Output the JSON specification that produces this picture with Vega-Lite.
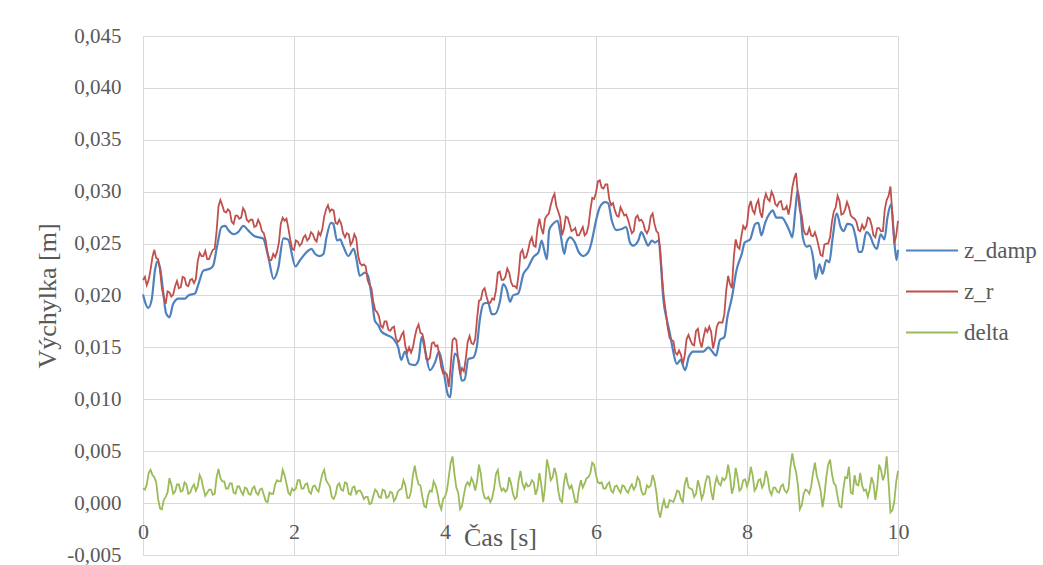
{
"$schema":"https://vega.github.io/schema/vega-lite/v6.json",
"width":755,"height":519,
"autosize":{"type":"none"},
"padding":{"left":143,"top":36,"right":145,"bottom":10},
"background":"white",
"config":{
"locale":{"number":{"decimal":",","thousands":" ","grouping":[3],"currency":["",""],"minus":"-"}},
"view":{"stroke":null},
"font":"Liberation Serif"
},
"datasets":{
"blue":[
{"t":0,"v":0.0201},{"t":0.07,"v":0.0188},{"t":0.115,"v":0.0196},{"t":0.16,"v":0.0225},{"t":0.19,"v":0.0233},{"t":0.225,"v":0.0227},{"t":0.27,"v":0.0202},{"t":0.305,"v":0.0183},{"t":0.35,"v":0.0179},{"t":0.4,"v":0.0192},{"t":0.47,"v":0.0197},{"t":0.56,"v":0.0197},{"t":0.6,"v":0.02},{"t":0.69,"v":0.0202},{"t":0.73,"v":0.021},{"t":0.8,"v":0.0224},{"t":0.89,"v":0.0226},{"t":0.93,"v":0.0229},{"t":0.98,"v":0.0247},{"t":1.04,"v":0.0266},{"t":1.09,"v":0.0267},{"t":1.13,"v":0.0263},{"t":1.2,"v":0.0259},{"t":1.26,"v":0.0261},{"t":1.33,"v":0.0267},{"t":1.39,"v":0.0263},{"t":1.48,"v":0.0257},{"t":1.59,"v":0.0255},{"t":1.66,"v":0.0237},{"t":1.73,"v":0.0216},{"t":1.79,"v":0.0226},{"t":1.86,"v":0.0255},{"t":1.92,"v":0.0254},{"t":2.02,"v":0.0228},{"t":2.08,"v":0.0234},{"t":2.17,"v":0.0242},{"t":2.23,"v":0.0245},{"t":2.28,"v":0.024},{"t":2.34,"v":0.0238},{"t":2.39,"v":0.024},{"t":2.43,"v":0.0256},{"t":2.49,"v":0.027},{"t":2.52,"v":0.0269},{"t":2.57,"v":0.0253},{"t":2.61,"v":0.0254},{"t":2.65,"v":0.0248},{"t":2.72,"v":0.0238},{"t":2.79,"v":0.0245},{"t":2.83,"v":0.0234},{"t":2.87,"v":0.0219},{"t":2.94,"v":0.0222},{"t":2.98,"v":0.0219},{"t":3.03,"v":0.0198},{"t":3.07,"v":0.0176},{"t":3.12,"v":0.0171},{"t":3.16,"v":0.0165},{"t":3.23,"v":0.0162},{"t":3.32,"v":0.0158},{"t":3.38,"v":0.015},{"t":3.42,"v":0.0138},{"t":3.47,"v":0.0146},{"t":3.53,"v":0.0134},{"t":3.6,"v":0.0133},{"t":3.65,"v":0.0138},{"t":3.69,"v":0.016},{"t":3.74,"v":0.0146},{"t":3.8,"v":0.0128},{"t":3.87,"v":0.0136},{"t":3.92,"v":0.0146},{"t":3.98,"v":0.0128},{"t":4.04,"v":0.0104},{"t":4.07,"v":0.0102},{"t":4.1,"v":0.0128},{"t":4.13,"v":0.0144},{"t":4.18,"v":0.0138},{"t":4.22,"v":0.0118},{"t":4.26,"v":0.0119},{"t":4.31,"v":0.0139},{"t":4.37,"v":0.014},{"t":4.42,"v":0.015},{"t":4.46,"v":0.0176},{"t":4.51,"v":0.0192},{"t":4.57,"v":0.0193},{"t":4.62,"v":0.0182},{"t":4.66,"v":0.0182},{"t":4.73,"v":0.0195},{"t":4.77,"v":0.0211},{"t":4.82,"v":0.0205},{"t":4.86,"v":0.0194},{"t":4.9,"v":0.02},{"t":4.97,"v":0.0202},{"t":5.04,"v":0.0221},{"t":5.1,"v":0.0227},{"t":5.17,"v":0.0237},{"t":5.24,"v":0.0242},{"t":5.28,"v":0.0253},{"t":5.31,"v":0.0245},{"t":5.35,"v":0.0235},{"t":5.38,"v":0.0263},{"t":5.43,"v":0.0269},{"t":5.49,"v":0.0272},{"t":5.53,"v":0.0259},{"t":5.58,"v":0.024},{"t":5.61,"v":0.0251},{"t":5.66,"v":0.0256},{"t":5.72,"v":0.0251},{"t":5.77,"v":0.0242},{"t":5.83,"v":0.0238},{"t":5.9,"v":0.0242},{"t":5.94,"v":0.0251},{"t":6,"v":0.0272},{"t":6.05,"v":0.0285},{"t":6.12,"v":0.029},{"t":6.16,"v":0.0289},{"t":6.21,"v":0.0272},{"t":6.27,"v":0.0263},{"t":6.34,"v":0.0264},{"t":6.4,"v":0.0266},{"t":6.45,"v":0.0251},{"t":6.49,"v":0.0248},{"t":6.56,"v":0.0253},{"t":6.6,"v":0.0261},{"t":6.65,"v":0.0254},{"t":6.69,"v":0.0248},{"t":6.74,"v":0.0253},{"t":6.78,"v":0.0251},{"t":6.83,"v":0.0253},{"t":6.86,"v":0.023},{"t":6.89,"v":0.0198},{"t":6.94,"v":0.0176},{"t":6.98,"v":0.0163},{"t":7.02,"v":0.0147},{"t":7.07,"v":0.0134},{"t":7.12,"v":0.0138},{"t":7.18,"v":0.0128},{"t":7.23,"v":0.0141},{"t":7.29,"v":0.0146},{"t":7.36,"v":0.0146},{"t":7.42,"v":0.0146},{"t":7.49,"v":0.015},{"t":7.53,"v":0.0147},{"t":7.59,"v":0.0142},{"t":7.64,"v":0.0157},{"t":7.7,"v":0.016},{"t":7.74,"v":0.0179},{"t":7.8,"v":0.0198},{"t":7.86,"v":0.0224},{"t":7.93,"v":0.024},{"t":7.97,"v":0.0251},{"t":8.04,"v":0.0254},{"t":8.11,"v":0.0269},{"t":8.15,"v":0.027},{"t":8.19,"v":0.0258},{"t":8.24,"v":0.027},{"t":8.3,"v":0.0279},{"t":8.34,"v":0.0282},{"t":8.39,"v":0.0275},{"t":8.46,"v":0.0275},{"t":8.52,"v":0.0269},{"t":8.57,"v":0.0261},{"t":8.6,"v":0.0256},{"t":8.64,"v":0.0282},{"t":8.67,"v":0.0301},{"t":8.7,"v":0.0288},{"t":8.74,"v":0.0256},{"t":8.79,"v":0.0247},{"t":8.83,"v":0.0248},{"t":8.88,"v":0.0234},{"t":8.91,"v":0.0216},{"t":8.96,"v":0.023},{"t":9,"v":0.0221},{"t":9.05,"v":0.0234},{"t":9.09,"v":0.0232},{"t":9.13,"v":0.0253},{"t":9.19,"v":0.0279},{"t":9.24,"v":0.0266},{"t":9.28,"v":0.0262},{"t":9.33,"v":0.0269},{"t":9.39,"v":0.0268},{"t":9.44,"v":0.0256},{"t":9.48,"v":0.0242},{"t":9.52,"v":0.0242},{"t":9.58,"v":0.0261},{"t":9.64,"v":0.0256},{"t":9.67,"v":0.025},{"t":9.72,"v":0.0245},{"t":9.77,"v":0.0259},{"t":9.82,"v":0.0254},{"t":9.86,"v":0.0275},{"t":9.91,"v":0.0288},{"t":9.94,"v":0.0263},{"t":9.98,"v":0.0234},{"t":10,"v":0.0244}
],
"rg":[
{"t":0,"z_r":0.0215,"delta":0.0014},{"t":0.025,"z_r":0.0218,"delta":0.0013},{"t":0.05,"z_r":0.021,"delta":0.0018},{"t":0.075,"z_r":0.0215,"delta":0.0029},{"t":0.1,"z_r":0.0225,"delta":0.0032},{"t":0.125,"z_r":0.0237,"delta":0.0027},{"t":0.15,"z_r":0.0244,"delta":0.0025},{"t":0.175,"z_r":0.0236,"delta":0.002},{"t":0.2,"z_r":0.0235,"delta":0.0004},{"t":0.225,"z_r":0.0225,"delta":-0.0005},{"t":0.25,"z_r":0.0207,"delta":-0.0006},{"t":0.275,"z_r":0.0198,"delta":0.0003},{"t":0.3,"z_r":0.0192,"delta":0.0006},{"t":0.325,"z_r":0.0204,"delta":0.001},{"t":0.35,"z_r":0.0203,"delta":0.0024},{"t":0.375,"z_r":0.0199,"delta":0.0018},{"t":0.4,"z_r":0.0201,"delta":0.0009},{"t":0.425,"z_r":0.0209,"delta":0.0011},{"t":0.45,"z_r":0.0214,"delta":0.0018},{"t":0.475,"z_r":0.0207,"delta":0.0018},
{"t":0.5,"z_r":0.0208,"delta":0.0011},{"t":0.525,"z_r":0.0218,"delta":0.0012},{"t":0.55,"z_r":0.0217,"delta":0.002},{"t":0.575,"z_r":0.021,"delta":0.0018},{"t":0.6,"z_r":0.0209,"delta":0.0009},{"t":0.625,"z_r":0.0215,"delta":0.001},{"t":0.65,"z_r":0.0216,"delta":0.0015},{"t":0.675,"z_r":0.0212,"delta":0.0018},{"t":0.7,"z_r":0.0216,"delta":0.0012},{"t":0.725,"z_r":0.0233,"delta":0.0016},{"t":0.75,"z_r":0.0241,"delta":0.0027},{"t":0.775,"z_r":0.0238,"delta":0.0023},{"t":0.8,"z_r":0.0238,"delta":0.0014},{"t":0.825,"z_r":0.0243,"delta":0.0007},{"t":0.85,"z_r":0.0235,"delta":0.001},{"t":0.875,"z_r":0.0235,"delta":0.0013},{"t":0.9,"z_r":0.024,"delta":0.0013},{"t":0.925,"z_r":0.0244,"delta":0.0008},{"t":0.95,"z_r":0.0245,"delta":0.0009},{"t":0.975,"z_r":0.0262,"delta":0.0025},
{"t":1,"z_r":0.0286,"delta":0.0033},{"t":1.025,"z_r":0.0292,"delta":0.0024},{"t":1.05,"z_r":0.0287,"delta":0.0021},{"t":1.075,"z_r":0.0281,"delta":0.0021},{"t":1.1,"z_r":0.028,"delta":0.0014},{"t":1.125,"z_r":0.0283,"delta":0.0014},{"t":1.15,"z_r":0.0281,"delta":0.0019},{"t":1.175,"z_r":0.0271,"delta":0.0019},{"t":1.2,"z_r":0.0269,"delta":0.001},{"t":1.225,"z_r":0.0277,"delta":0.0009},{"t":1.25,"z_r":0.0277,"delta":0.0016},{"t":1.275,"z_r":0.0274,"delta":0.0016},{"t":1.3,"z_r":0.0275,"delta":0.0011},{"t":1.325,"z_r":0.0284,"delta":0.0008},{"t":1.35,"z_r":0.0281,"delta":0.0015},{"t":1.375,"z_r":0.0273,"delta":0.0014},{"t":1.4,"z_r":0.0271,"delta":0.0009},{"t":1.425,"z_r":0.0273,"delta":0.0008},{"t":1.45,"z_r":0.0273,"delta":0.0014},{"t":1.475,"z_r":0.0266,"delta":0.0016},
{"t":1.5,"z_r":0.0267,"delta":0.001},{"t":1.525,"z_r":0.0273,"delta":0.0008},{"t":1.55,"z_r":0.0269,"delta":0.0013},{"t":1.575,"z_r":0.0262,"delta":0.0014},{"t":1.6,"z_r":0.026,"delta":0.0008},{"t":1.625,"z_r":0.0253,"delta":0.0002},{"t":1.65,"z_r":0.0241,"delta":0.0001},{"t":1.675,"z_r":0.0234,"delta":0.001},{"t":1.7,"z_r":0.0234,"delta":0.0009},{"t":1.725,"z_r":0.024,"delta":0.0009},{"t":1.75,"z_r":0.0237,"delta":0.0018},{"t":1.775,"z_r":0.0242,"delta":0.0022},{"t":1.8,"z_r":0.0251,"delta":0.0021},{"t":1.825,"z_r":0.0269,"delta":0.0021},{"t":1.85,"z_r":0.0275,"delta":0.0032},{"t":1.875,"z_r":0.0272,"delta":0.0027},{"t":1.9,"z_r":0.0274,"delta":0.0019},{"t":1.925,"z_r":0.0265,"delta":0.001},{"t":1.95,"z_r":0.0254,"delta":0.0008},{"t":1.975,"z_r":0.0245,"delta":0.0014},
{"t":2,"z_r":0.0244,"delta":0.0012},{"t":2.025,"z_r":0.0253,"delta":0.0014},{"t":2.05,"z_r":0.0252,"delta":0.0022},{"t":2.075,"z_r":0.0248,"delta":0.0022},{"t":2.1,"z_r":0.025,"delta":0.0014},{"t":2.125,"z_r":0.0256,"delta":0.0014},{"t":2.15,"z_r":0.0258,"delta":0.0018},{"t":2.175,"z_r":0.0253,"delta":0.0019},{"t":2.2,"z_r":0.0255,"delta":0.0011},{"t":2.225,"z_r":0.0261,"delta":0.0009},{"t":2.25,"z_r":0.0259,"delta":0.0016},{"t":2.275,"z_r":0.0254,"delta":0.0017},{"t":2.3,"z_r":0.0252,"delta":0.0013},{"t":2.325,"z_r":0.0261,"delta":0.0011},{"t":2.35,"z_r":0.0258,"delta":0.002},{"t":2.375,"z_r":0.0264,"delta":0.0028},{"t":2.4,"z_r":0.0276,"delta":0.0032},{"t":2.425,"z_r":0.0283,"delta":0.0022},{"t":2.45,"z_r":0.0287,"delta":0.0019},{"t":2.475,"z_r":0.0281,"delta":0.0016},
{"t":2.5,"z_r":0.0283,"delta":0.0006},{"t":2.525,"z_r":0.0282,"delta":0.0004},{"t":2.55,"z_r":0.027,"delta":0.0008},{"t":2.575,"z_r":0.0269,"delta":0.0017},{"t":2.6,"z_r":0.0273,"delta":0.0019},{"t":2.625,"z_r":0.0269,"delta":0.0013},{"t":2.65,"z_r":0.026,"delta":0.0012},{"t":2.675,"z_r":0.0256,"delta":0.002},{"t":2.7,"z_r":0.026,"delta":0.0019},{"t":2.725,"z_r":0.0259,"delta":0.0009},{"t":2.75,"z_r":0.0249,"delta":0.0008},{"t":2.775,"z_r":0.0252,"delta":0.0015},{"t":2.8,"z_r":0.0259,"delta":0.0016},{"t":2.825,"z_r":0.0255,"delta":0.0009},{"t":2.85,"z_r":0.0238,"delta":0.0012},{"t":2.875,"z_r":0.0231,"delta":0.0012},{"t":2.9,"z_r":0.0229,"delta":0.0009},{"t":2.925,"z_r":0.023,"delta":0.0004},{"t":2.95,"z_r":0.0228,"delta":0.0006},{"t":2.975,"z_r":0.0215,"delta":0.0006},
{"t":3,"z_r":0.021,"delta":-0.0001},{"t":3.025,"z_r":0.0207,"delta":0},{"t":3.05,"z_r":0.0194,"delta":0.0007},{"t":3.075,"z_r":0.0186,"delta":0.0013},{"t":3.1,"z_r":0.0184,"delta":0.0011},{"t":3.125,"z_r":0.018,"delta":0.0006},{"t":3.15,"z_r":0.0171,"delta":0.0005},{"t":3.175,"z_r":0.0169,"delta":0.0013},{"t":3.2,"z_r":0.0175,"delta":0.0012},{"t":3.225,"z_r":0.0175,"delta":0.0005},{"t":3.25,"z_r":0.0167,"delta":0.0006},{"t":3.275,"z_r":0.0166,"delta":0.0011},{"t":3.3,"z_r":0.0169,"delta":0.001},{"t":3.325,"z_r":0.017,"delta":0.0002},{"t":3.35,"z_r":0.0159,"delta":0.0005},{"t":3.375,"z_r":0.0155,"delta":0.0011},{"t":3.4,"z_r":0.0157,"delta":0.0013},{"t":3.425,"z_r":0.0162,"delta":0.0014},{"t":3.45,"z_r":0.0165,"delta":0.0022},{"t":3.475,"z_r":0.0151,"delta":0.0017},
{"t":3.5,"z_r":0.0145,"delta":0.0005},{"t":3.525,"z_r":0.015,"delta":0.0005},{"t":3.55,"z_r":0.0145,"delta":0.0011},{"t":3.575,"z_r":0.015,"delta":0.0027},{"t":3.6,"z_r":0.016,"delta":0.0036},{"t":3.625,"z_r":0.0168,"delta":0.0025},{"t":3.65,"z_r":0.0172,"delta":0.0018},{"t":3.675,"z_r":0.0164,"delta":0.0017},{"t":3.7,"z_r":0.0163,"delta":0.0006},{"t":3.725,"z_r":0.0155,"delta":-0.0003},{"t":3.75,"z_r":0.0139,"delta":-0.0004},{"t":3.775,"z_r":0.0138,"delta":0.0007},{"t":3.8,"z_r":0.014,"delta":0.0012},{"t":3.825,"z_r":0.0154,"delta":0.0011},{"t":3.85,"z_r":0.0155,"delta":0.0021},{"t":3.875,"z_r":0.0151,"delta":0.0017},{"t":3.9,"z_r":0.0152,"delta":0.001},{"t":3.925,"z_r":0.0143,"delta":-0.0001},{"t":3.95,"z_r":0.0131,"delta":-0.0006},{"t":3.975,"z_r":0.0125,"delta":0.0004},
{"t":4,"z_r":0.0126,"delta":0.0006},{"t":4.025,"z_r":0.0124,"delta":0.0012},{"t":4.05,"z_r":0.0112,"delta":0.0025},{"t":4.075,"z_r":0.0132,"delta":0.0039},{"t":4.1,"z_r":0.0157,"delta":0.0045},{"t":4.125,"z_r":0.0159,"delta":0.0028},{"t":4.15,"z_r":0.0157,"delta":0.0015},{"t":4.175,"z_r":0.0137,"delta":0.001},{"t":4.2,"z_r":0.0124,"delta":-0.0006},{"t":4.225,"z_r":0.013,"delta":-0.0003},{"t":4.25,"z_r":0.0127,"delta":0.0008},{"t":4.275,"z_r":0.0139,"delta":0.0017},{"t":4.3,"z_r":0.0155,"delta":0.002},{"t":4.325,"z_r":0.0161,"delta":0.0017},{"t":4.35,"z_r":0.0154,"delta":0.0024},{"t":4.375,"z_r":0.0153,"delta":0.002},{"t":4.4,"z_r":0.0158,"delta":0.0012},{"t":4.425,"z_r":0.0178,"delta":0.0021},{"t":4.45,"z_r":0.0195,"delta":0.0037},{"t":4.475,"z_r":0.0196,"delta":0.0028},
{"t":4.5,"z_r":0.0205,"delta":0.0012},{"t":4.525,"z_r":0.0207,"delta":0.0005},{"t":4.55,"z_r":0.0199,"delta":0.0004},{"t":4.575,"z_r":0.0193,"delta":0.0006},{"t":4.6,"z_r":0.0193,"delta":0.0001},{"t":4.625,"z_r":0.0197,"delta":0.0005},{"t":4.65,"z_r":0.0196,"delta":0.0014},{"t":4.675,"z_r":0.0205,"delta":0.0028},{"t":4.7,"z_r":0.0222,"delta":0.0032},{"t":4.725,"z_r":0.0223,"delta":0.0018},{"t":4.75,"z_r":0.0215,"delta":0.0012},{"t":4.775,"z_r":0.0215,"delta":0.0014},{"t":4.8,"z_r":0.0218,"delta":0.0011},{"t":4.825,"z_r":0.0226,"delta":0.0013},{"t":4.85,"z_r":0.0222,"delta":0.0025},{"t":4.875,"z_r":0.0213,"delta":0.0019},{"t":4.9,"z_r":0.0209,"delta":0.0009},{"t":4.925,"z_r":0.0209,"delta":0.0004},{"t":4.95,"z_r":0.0207,"delta":0.0006},{"t":4.975,"z_r":0.022,"delta":0.0022},
{"t":5,"z_r":0.0241,"delta":0.0031},{"t":5.025,"z_r":0.0244,"delta":0.0019},{"t":5.05,"z_r":0.0236,"delta":0.0014},{"t":5.075,"z_r":0.0237,"delta":0.0019},{"t":5.1,"z_r":0.0243,"delta":0.0016},{"t":5.125,"z_r":0.0252,"delta":0.0017},{"t":5.15,"z_r":0.0256,"delta":0.0022},{"t":5.175,"z_r":0.0248,"delta":0.002},{"t":5.2,"z_r":0.0247,"delta":0.0008},{"t":5.225,"z_r":0.0265,"delta":0.0014},{"t":5.25,"z_r":0.0274,"delta":0.0029},{"t":5.275,"z_r":0.0265,"delta":0.0018},{"t":5.3,"z_r":0.0259,"delta":0.0001},{"t":5.325,"z_r":0.0274,"delta":0.0016},{"t":5.35,"z_r":0.0277,"delta":0.0042},{"t":5.375,"z_r":0.0279,"delta":0.0034},{"t":5.4,"z_r":0.0287,"delta":0.0022},{"t":5.425,"z_r":0.0294,"delta":0.0025},{"t":5.45,"z_r":0.0298,"delta":0.0034},{"t":5.475,"z_r":0.0286,"delta":0.0027},
{"t":5.5,"z_r":0.0281,"delta":0.0012},{"t":5.525,"z_r":0.0275,"delta":0.0003},{"t":5.55,"z_r":0.0258,"delta":0.0001},{"t":5.575,"z_r":0.0264,"delta":0.0019},{"t":5.6,"z_r":0.0276,"delta":0.0029},{"t":5.625,"z_r":0.0275,"delta":0.0019},{"t":5.65,"z_r":0.0269,"delta":0.0014},{"t":5.675,"z_r":0.0262,"delta":0.0017},{"t":5.7,"z_r":0.0263,"delta":0.001},{"t":5.725,"z_r":0.0265,"delta":0.0001},{"t":5.75,"z_r":0.0258,"delta":0.0001},{"t":5.775,"z_r":0.0258,"delta":0.0014},{"t":5.8,"z_r":0.0262,"delta":0.0022},{"t":5.825,"z_r":0.0266,"delta":0.0015},{"t":5.85,"z_r":0.0258,"delta":0.0019},{"t":5.875,"z_r":0.026,"delta":0.0024},{"t":5.9,"z_r":0.0267,"delta":0.0025},{"t":5.925,"z_r":0.0282,"delta":0.0029},{"t":5.95,"z_r":0.0294,"delta":0.0039},{"t":5.975,"z_r":0.0293,"delta":0.0037},
{"t":6,"z_r":0.0299,"delta":0.0027},{"t":6.025,"z_r":0.031,"delta":0.002},{"t":6.05,"z_r":0.0311,"delta":0.0019},{"t":6.075,"z_r":0.0304,"delta":0.002},{"t":6.1,"z_r":0.0303,"delta":0.0014},{"t":6.125,"z_r":0.0307,"delta":0.0014},{"t":6.15,"z_r":0.0307,"delta":0.0018},{"t":6.175,"z_r":0.0293,"delta":0.002},{"t":6.2,"z_r":0.0287,"delta":0.0012},{"t":6.225,"z_r":0.0289,"delta":0.001},{"t":6.25,"z_r":0.0282,"delta":0.0016},{"t":6.275,"z_r":0.0277,"delta":0.0017},{"t":6.3,"z_r":0.0276,"delta":0.0013},{"t":6.325,"z_r":0.0285,"delta":0.001},{"t":6.35,"z_r":0.0281,"delta":0.0017},{"t":6.375,"z_r":0.0277,"delta":0.0016},{"t":6.4,"z_r":0.0278,"delta":0.0012},{"t":6.425,"z_r":0.0273,"delta":0.001},{"t":6.45,"z_r":0.0266,"delta":0.0015},{"t":6.475,"z_r":0.026,"delta":0.0018},
{"t":6.5,"z_r":0.0262,"delta":0.0013},{"t":6.525,"z_r":0.0275,"delta":0.0016},{"t":6.55,"z_r":0.0277,"delta":0.0025},{"t":6.575,"z_r":0.0272,"delta":0.0022},{"t":6.6,"z_r":0.0273,"delta":0.0012},{"t":6.625,"z_r":0.027,"delta":0.0008},{"t":6.65,"z_r":0.0263,"delta":0.0009},{"t":6.675,"z_r":0.026,"delta":0.0017},{"t":6.7,"z_r":0.0264,"delta":0.0015},{"t":6.725,"z_r":0.0276,"delta":0.0017},{"t":6.75,"z_r":0.0279,"delta":0.0027},{"t":6.775,"z_r":0.0269,"delta":0.0021},{"t":6.8,"z_r":0.0262,"delta":0.001},{"t":6.825,"z_r":0.026,"delta":-0.0007},{"t":6.85,"z_r":0.0245,"delta":-0.0014},{"t":6.875,"z_r":0.0218,"delta":-0.0004},{"t":6.9,"z_r":0.0197,"delta":0.0003},{"t":6.925,"z_r":0.0184,"delta":-0.0004},{"t":6.95,"z_r":0.0169,"delta":-0.0004},{"t":6.975,"z_r":0.0159,"delta":0.0003},
{"t":7,"z_r":0.0157,"delta":0.0002},{"t":7.025,"z_r":0.0156,"delta":0.0001},{"t":7.05,"z_r":0.0145,"delta":0.0006},{"t":7.075,"z_r":0.0143,"delta":0.0012},{"t":7.1,"z_r":0.0147,"delta":0.0011},{"t":7.125,"z_r":0.0143,"delta":0.0004},{"t":7.15,"z_r":0.0134,"delta":0.0001},{"t":7.175,"z_r":0.0142,"delta":0.0018},{"t":7.2,"z_r":0.0158,"delta":0.0025},{"t":7.225,"z_r":0.0162,"delta":0.0015},{"t":7.25,"z_r":0.0157,"delta":0.0014},{"t":7.275,"z_r":0.0153,"delta":0.0013},{"t":7.3,"z_r":0.0152,"delta":0.0006},{"t":7.325,"z_r":0.0166,"delta":0.0009},{"t":7.35,"z_r":0.0168,"delta":0.0022},{"t":7.375,"z_r":0.0156,"delta":0.0015},{"t":7.4,"z_r":0.015,"delta":0.0004},{"t":7.425,"z_r":0.016,"delta":0.0009},{"t":7.45,"z_r":0.0168,"delta":0.002},{"t":7.475,"z_r":0.0165,"delta":0.0026},
{"t":7.5,"z_r":0.017,"delta":0.0025},{"t":7.525,"z_r":0.0165,"delta":0.0011},{"t":7.55,"z_r":0.0149,"delta":0.0003},{"t":7.575,"z_r":0.0157,"delta":0.0018},{"t":7.6,"z_r":0.017,"delta":0.0025},{"t":7.625,"z_r":0.0174,"delta":0.0019},{"t":7.65,"z_r":0.0174,"delta":0.0017},{"t":7.675,"z_r":0.0174,"delta":0.0024},{"t":7.7,"z_r":0.0182,"delta":0.0022},{"t":7.725,"z_r":0.0205,"delta":0.0025},{"t":7.75,"z_r":0.0219,"delta":0.0037},{"t":7.775,"z_r":0.0211,"delta":0.0026},{"t":7.8,"z_r":0.0207,"delta":0.0009},{"t":7.825,"z_r":0.0237,"delta":0.0016},{"t":7.85,"z_r":0.0254,"delta":0.0034},{"t":7.875,"z_r":0.0247,"delta":0.0025},{"t":7.9,"z_r":0.0245,"delta":0.0012},{"t":7.925,"z_r":0.0257,"delta":0.0014},{"t":7.95,"z_r":0.0267,"delta":0.0022},{"t":7.975,"z_r":0.0264,"delta":0.0023},
{"t":8,"z_r":0.0268,"delta":0.0016},{"t":8.025,"z_r":0.0285,"delta":0.0022},{"t":8.05,"z_r":0.0291,"delta":0.0035},{"t":8.075,"z_r":0.0282,"delta":0.0027},{"t":8.1,"z_r":0.0279,"delta":0.0012},{"t":8.125,"z_r":0.0288,"delta":0.0015},{"t":8.15,"z_r":0.0292,"delta":0.0022},{"t":8.175,"z_r":0.028,"delta":0.0023},{"t":8.2,"z_r":0.0275,"delta":0.0015},{"t":8.225,"z_r":0.0291,"delta":0.0019},{"t":8.25,"z_r":0.0298,"delta":0.0031},{"t":8.275,"z_r":0.0293,"delta":0.0024},{"t":8.3,"z_r":0.0291,"delta":0.0012},{"t":8.325,"z_r":0.03,"delta":0.0008},{"t":8.35,"z_r":0.0296,"delta":0.0015},{"t":8.375,"z_r":0.0288,"delta":0.0015},{"t":8.4,"z_r":0.0286,"delta":0.0011},{"t":8.425,"z_r":0.029,"delta":0.001},{"t":8.45,"z_r":0.0291,"delta":0.0016},{"t":8.475,"z_r":0.0283,"delta":0.0018},
{"t":8.5,"z_r":0.0283,"delta":0.0012},{"t":8.525,"z_r":0.0286,"delta":0.001},{"t":8.55,"z_r":0.0278,"delta":0.0014},{"t":8.575,"z_r":0.0288,"delta":0.0035},{"t":8.6,"z_r":0.0304,"delta":0.0048},{"t":8.625,"z_r":0.0313,"delta":0.0037},{"t":8.65,"z_r":0.0318,"delta":0.003},{"t":8.675,"z_r":0.0296,"delta":0.0017},{"t":8.7,"z_r":0.0282,"delta":-0.0006},{"t":8.725,"z_r":0.0277,"delta":-0.0002},{"t":8.75,"z_r":0.0263,"delta":0.0009},{"t":8.775,"z_r":0.0259,"delta":0.0013},{"t":8.8,"z_r":0.0259,"delta":0.0012},{"t":8.825,"z_r":0.0265,"delta":0.0009},{"t":8.85,"z_r":0.0258,"delta":0.0016},{"t":8.875,"z_r":0.0257,"delta":0.0029},{"t":8.9,"z_r":0.0261,"delta":0.0039},{"t":8.925,"z_r":0.0255,"delta":0.0026},{"t":8.95,"z_r":0.0247,"delta":0.002},{"t":8.975,"z_r":0.0239,"delta":0.0012},
{"t":9,"z_r":0.0238,"delta":-0.0004},{"t":9.025,"z_r":0.0249,"delta":0.0007},{"t":9.05,"z_r":0.025,"delta":0.0025},{"t":9.075,"z_r":0.025,"delta":0.0037},{"t":9.1,"z_r":0.0256,"delta":0.0042},{"t":9.125,"z_r":0.0271,"delta":0.0028},{"t":9.15,"z_r":0.0281,"delta":0.0019},{"t":9.175,"z_r":0.0285,"delta":0.0017},{"t":9.2,"z_r":0.0296,"delta":0.0006},{"t":9.225,"z_r":0.0291,"delta":-0.0003},{"t":9.25,"z_r":0.0278,"delta":-0.0004},{"t":9.275,"z_r":0.0279,"delta":0.0013},{"t":9.3,"z_r":0.0283,"delta":0.0025},{"t":9.325,"z_r":0.029,"delta":0.0024},{"t":9.35,"z_r":0.0285,"delta":0.0035},{"t":9.375,"z_r":0.0277,"delta":0.001},{"t":9.4,"z_r":0.0275,"delta":0.0009},{"t":9.425,"z_r":0.0274,"delta":0.0027},{"t":9.45,"z_r":0.0271,"delta":0.0018},{"t":9.475,"z_r":0.0263,"delta":0.0017},
{"t":9.5,"z_r":0.0262,"delta":0.0029},{"t":9.525,"z_r":0.0268,"delta":0.0017},{"t":9.55,"z_r":0.0264,"delta":0.0012},{"t":9.575,"z_r":0.0267,"delta":0.0013},{"t":9.6,"z_r":0.0275,"delta":0.0006},{"t":9.625,"z_r":0.0274,"delta":0.0013},{"t":9.65,"z_r":0.0268,"delta":0.0025},{"t":9.675,"z_r":0.0258,"delta":0.0019},{"t":9.7,"z_r":0.0256,"delta":0.0003},{"t":9.725,"z_r":0.0265,"delta":0.0016},{"t":9.75,"z_r":0.0265,"delta":0.0037},{"t":9.775,"z_r":0.0262,"delta":0.0032},{"t":9.8,"z_r":0.0262,"delta":0.0022},{"t":9.825,"z_r":0.0283,"delta":0.0028},{"t":9.85,"z_r":0.0292,"delta":0.0045},{"t":9.875,"z_r":0.0296,"delta":0.002},{"t":9.9,"z_r":0.0305,"delta":-0.0009},{"t":9.925,"z_r":0.0279,"delta":-0.0007},{"t":9.95,"z_r":0.025,"delta":0.0001},{"t":9.975,"z_r":0.0257,"delta":0.002},{"t":10,"z_r":0.0272,"delta":0.0031}
]
},
"encoding":{
"x":{"field":"t","type":"quantitative","scale":{"domain":[0,10],"nice":false,"zero":false},
"axis":{"title":"Čas [s]","values":[0,2,4,6,8,10],"format":"d","offset":-52,"grid":true,"gridColor":"#d9d9d9","gridWidth":1,"domain":false,"ticks":false,"tickSize":0,"labelPadding":35,"labelBaseline":"alphabetic","labelFontSize":22,"labelColor":"#595959","labelFont":"Liberation Serif","labelFlush":false,"labelOverlap":false,"titleFont":"Liberation Serif","titleFontSize":26,"titleFontWeight":"normal","titleColor":"#595959","titleX":357,"titleY":42,"titleBaseline":"alphabetic","titleAlign":"center"}},
"y":{"field":"v","type":"quantitative","scale":{"domain":[-0.005,0.045],"nice":false,"zero":false},
"axis":{"title":"Výchylka [m]","values":[-0.005,0,0.005,0.01,0.015,0.02,0.025,0.03,0.035,0.04,0.045],"format":".3f","grid":true,"gridColor":"#d9d9d9","gridWidth":1,"domain":false,"ticks":false,"tickSize":0,"labelPadding":22,"labelFontSize":21,"labelColor":"#595959","labelFont":"Liberation Serif","labelOverlap":false,"titleFont":"Liberation Serif","titleFontSize":26,"titleFontWeight":"normal","titleColor":"#595959","titleX":-96,"titleY":259.5,"titleAngle":-90,"titleBaseline":"middle","titleAlign":"center"}}
},
"layer":[
{"data":{"name":"blue"},
"mark":{"type":"line","strokeWidth":2.2,"interpolate":"monotone"},
"encoding":{"color":{"datum":"z_damp","type":"nominal","scale":{"domain":["z_damp","z_r","delta"],"range":["#4F81BD","#C0504D","#9BBB59"]},
"legend":{"orient":"none","legendX":762,"legendY":194,"title":null,"symbolType":"stroke","symbolSize":2704,"symbolStrokeWidth":2,"labelFontSize":23,"labelFont":"Liberation Serif","labelColor":"#595959","labelOffset":5,"clipHeight":41,"rowPadding":0,"padding":0}}}},
{"data":{"name":"rg"},
"transform":[{"fold":["z_r","delta"],"as":["s","v"]}],
"mark":{"type":"line","strokeWidth":1.8},
"encoding":{"color":{"field":"s","type":"nominal","scale":{"domain":["z_damp","z_r","delta"],"range":["#4F81BD","#C0504D","#9BBB59"]},
"legend":{"orient":"none","legendX":762,"legendY":194,"title":null,"symbolType":"stroke","symbolSize":2704,"symbolStrokeWidth":2,"labelFontSize":23,"labelFont":"Liberation Serif","labelColor":"#595959","labelOffset":5,"clipHeight":41,"rowPadding":0,"padding":0}}}}
]
}
